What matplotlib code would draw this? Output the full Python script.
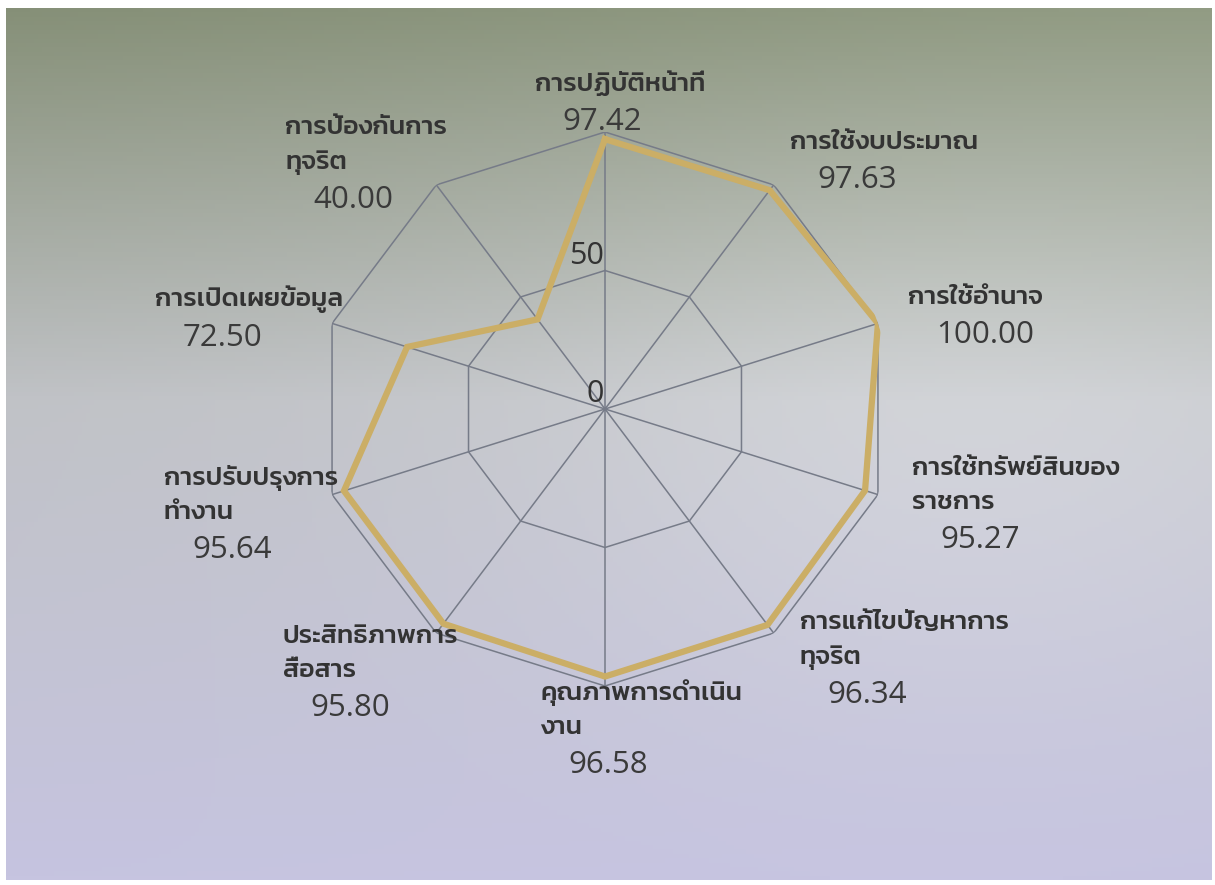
import numpy as np
import matplotlib
matplotlib.use('Agg')
import matplotlib.pyplot as plt
from matplotlib import font_manager

# ITA indicator scores (clockwise from the top)
categories = [
    'การปฏิบัติหน้าที่',
    'การใช้งบประมาณ',
    'การใช้อำนาจ',
    'การใช้ทรัพย์สินของ\nราชการ',
    'การแก้ไขปัญหาการ\nทุจริต',
    'คุณภาพการดำเนิน\nงาน',
    'ประสิทธิภาพการ\nสื่อสาร',
    'การปรับปรุงการ\nทำงาน',
    'การเปิดเผยข้อมูล',
    'การป้องกันการ\nทุจริต',
]
scores = [97.42, 97.63, 100.00, 95.27, 96.34, 96.58, 95.80, 95.64, 72.50, 40.00]
ring_levels = [50, 100]
ring_labels = ['0', '50']

installed = {f.name for f in font_manager.fontManager.ttflist}
thai_font = next((f for f in ['Kanit', 'Prompt', 'Noto Sans Thai', 'Sarabun'] if f in installed), 'DejaVu Sans')
num_font = 'Open Sans' if 'Open Sans' in installed else 'DejaVu Sans'

line_color = '#cbae66'
grid_color = '#767b88'
text_color = '#333333'

fig = plt.figure(figsize=(12.15, 8.85), dpi=100)
fig.patch.set_facecolor('white')

# photographed screen background
bg = fig.add_axes([6 / 1215, 5 / 885, 1206 / 1215, 872 / 885])
ny, nx = 200, 300
yy, xx = np.mgrid[0:1:ny * 1j, 0:1:nx * 1j]
top = np.array([144, 154, 130]) / 255
mid = np.array([198, 200, 204]) / 255
bot = np.array([198, 196, 224]) / 255
t = yy[..., None]
img = np.where(t < 0.45, top + (mid - top) * (t / 0.45), mid + (bot - mid) * ((t - 0.45) / 0.55))
glow = np.exp(-(((xx - 0.78) / 0.35) ** 2 + ((yy - 0.45) / 0.35) ** 2))[..., None]
img = np.clip(img + 0.05 * glow - 0.04 * (1 - xx[..., None]) * (1 - yy[..., None]), 0, 1)
bg.imshow(img, aspect='auto', extent=[0, 1, 0, 1], origin='upper')
bg.set_axis_off()

# radar axes
cx, cy = 605 / 1215, 1 - 409 / 885
w, h = 574 / 1215, 554 / 885
ax = fig.add_axes([cx - w / 2, cy - h / 2, w, h], projection='polar')
ax.set_aspect('auto')
ax.patch.set_alpha(0)
ax.set_theta_zero_location('N')
ax.set_theta_direction(-1)
ax.set_ylim(0, 100)
ax.grid(False)
ax.set_xticks([])
ax.set_yticks([])
ax.spines['polar'].set_visible(False)

n = len(categories)
theta = np.linspace(0, 2 * np.pi, n, endpoint=False)
theta_c = np.append(theta, theta[0])

for lvl in ring_levels:
    ax.plot(theta_c, [lvl] * (n + 1), color=grid_color, lw=1.1, zorder=1)
for th in theta:
    ax.plot([th, th], [0, 100], color=grid_color, lw=1.1, zorder=1)

ax.plot(theta_c, scores + scores[:1], color=line_color, lw=4.5,
        solid_joinstyle='miter', zorder=3)

for lab, r in zip(ring_labels, [0] + ring_levels[:1]):
    ax.annotate(lab, xy=(0, r), xytext=(-1, 0), textcoords='offset points',
                ha='right', va='bottom', fontsize=22, color=text_color,
                family=num_font, zorder=4)

# label layout: (ha, dx px, dy px) of the last line's baseline from the axis end
px = 0.72
layout = [('center', 15, 41), ('left', 16, 36), ('left', 30, 19), ('left', 34, -14),
          ('left', 26, -31), ('left', -65, -48), ('right', 22, -44), ('right', 6, -24),
          ('right', 11, 17), ('right', 11, 16)]

for th, name, val, (ha, dx, dy) in zip(theta, categories, scores, layout):
    name_t = ax.annotate(name, xy=(th, 100), xytext=(dx * px, dy * px),
                         textcoords='offset points', ha=ha, va='baseline',
                         multialignment='left', fontsize=19, fontweight='medium',
                         color=text_color, family=[thai_font, 'DejaVu Sans'],
                         linespacing=1.55, annotation_clip=False, zorder=5)
    ax.annotate(f'{val:.2f}', xy=(0, 0), xycoords=name_t, xytext=(28 * px, -10 * px),
                textcoords='offset points', ha='left', va='top', fontsize=22.5,
                color='#3a3a3a', family=num_font, annotation_clip=False, zorder=5)

fig.savefig('out.png', dpi=100)
